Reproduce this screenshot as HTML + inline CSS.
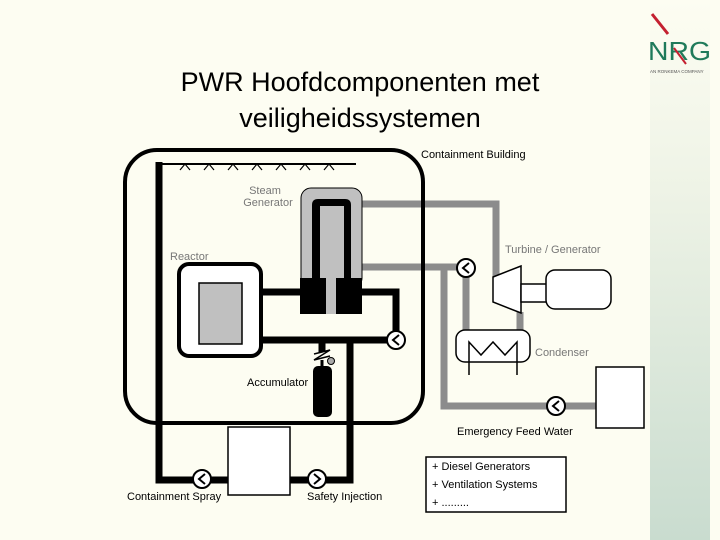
<!DOCTYPE html>
<html><head><style>
body{margin:0;width:720px;height:540px;background:#fdfdf2;overflow:hidden;position:relative;font-family:"Liberation Sans",sans-serif}
.strip{position:absolute;left:650px;top:0;width:60px;height:540px;background:linear-gradient(#fdfdf2 0%,#eef3e6 35%,#c9dccf 100%)}
.title{position:absolute;left:100px;width:520px;top:64px;text-align:center;font-size:27px;line-height:36px;color:#000}
svg{position:absolute;left:0;top:0}
</style></head><body>
<div class="strip"></div>
<div class="title">PWR Hoofdcomponenten met<br>veiligheidssystemen</div>
<svg width="720" height="540" font-family="Liberation Sans, sans-serif">
<!-- logo -->
<line x1="652" y1="14" x2="668" y2="34" stroke="#c42030" stroke-width="3"/>
<text x="648" y="60" font-size="26" fill="#1f7a5a" textLength="63" lengthAdjust="spacingAndGlyphs">NRG</text>
<line x1="674" y1="48" x2="686" y2="64" stroke="#c42030" stroke-width="2"/>
<text x="650" y="73" font-size="4.5" fill="#555">AN RONKEMA COMPANY</text>
<!-- gray pipes -->
<g stroke="#8c8c8c" stroke-width="7" fill="none">
<polyline points="362,204 496,204 496,278"/>
<polyline points="362,267 458,267"/>
<line x1="466" y1="276" x2="466" y2="331"/>
<line x1="520" y1="312" x2="520" y2="331"/>
<polyline points="444,267 444,406 548,406"/>
<line x1="564" y1="406" x2="596" y2="406"/>
</g>
<!-- containment -->
<rect x="125" y="150" width="298" height="273" rx="32" fill="none" stroke="#000" stroke-width="4"/>
<line x1="159" y1="164" x2="356" y2="164" stroke="#000" stroke-width="2"/>
<g stroke="#000" stroke-width="1.2" fill="none">
<polyline points="180,170 185,164 190,170"/><polyline points="204,170 209,164 214,170"/><polyline points="228,170 233,164 238,170"/><polyline points="252,170 257,164 262,170"/><polyline points="276,170 281,164 286,170"/><polyline points="300,170 305,164 310,170"/><polyline points="324,170 329,164 334,170"/>
</g>
<!-- black pipes -->
<g stroke="#000" stroke-width="7" fill="none">
<polyline points="159,162 159,480 195,480"/>
<line x1="210" y1="480" x2="228" y2="480"/>
<polyline points="290,480 309,480"/>
<polyline points="325,480 350,480 350,340"/>
<line x1="261" y1="292" x2="301" y2="292"/>
<polyline points="362,292 396,292 396,331"/>
<line x1="261" y1="340" x2="387" y2="340"/>
<line x1="322" y1="340" x2="322" y2="352"/>
</g>
<!-- steam generator -->
<rect x="301" y="188" width="61" height="100" rx="10" fill="#c0c0c0" stroke="#000" stroke-width="1"/>
<rect x="300" y="278" width="62" height="36" fill="#000"/>
<path d="M312,278 V205 Q312,199 318,199 H345 Q351,199 351,205 V278 H344 V206 H320 V278 Z" fill="#000"/>
<rect x="326" y="278" width="10" height="36" fill="#c0c0c0"/>
<!-- reactor -->
<rect x="179" y="264" width="82" height="92" rx="10" fill="#fff" stroke="#000" stroke-width="4"/>
<rect x="199" y="283" width="43" height="61" fill="#c0c0c0" stroke="#000" stroke-width="1.5"/>
<!-- accumulator -->
<polyline points="314,354 330,350 314,360 330,356" stroke="#000" stroke-width="1.5" fill="none"/>
<circle cx="331" cy="361" r="3.5" fill="#aaa" stroke="#000"/>
<line x1="322" y1="360" x2="322" y2="367" stroke="#000" stroke-width="3"/>
<rect x="313" y="366" width="19" height="51" rx="5" fill="#000"/>
<!-- box bottom -->
<rect x="228" y="427" width="62" height="68" fill="#fff" stroke="#000" stroke-width="1.5"/>
<!-- pumps -->
<g fill="#fff" stroke="#000" stroke-width="2">
<circle cx="202" cy="479" r="9"/><circle cx="317" cy="479" r="9"/><circle cx="396" cy="340" r="9"/>
<circle cx="466" cy="268" r="9"/><circle cx="556" cy="406" r="9"/>
</g>
<g fill="none" stroke="#000" stroke-width="2">
<polyline points="205,474 199,479 205,484"/><polyline points="314,474 320,479 314,484"/><polyline points="399,335 393,340 399,345"/>
<polyline points="469,263 463,268 469,273"/><polyline points="559,401 553,406 559,411"/>
</g>
<!-- turbine -->
<polygon points="493,277 521,266 521,313 493,302" fill="#fff" stroke="#000" stroke-width="1.5"/>
<rect x="521" y="284" width="26" height="18" fill="#fff" stroke="#000" stroke-width="1.5"/>
<rect x="546" y="270" width="65" height="39" rx="9" fill="#fff" stroke="#000" stroke-width="1.5"/>
<!-- condenser -->
<rect x="456" y="330" width="74" height="32" rx="9" fill="#fff" stroke="#000" stroke-width="1.5"/>
<polyline points="469,375 469,342 481,355 493,342 505,355 517,342 517,375" fill="none" stroke="#000" stroke-width="1.5"/>
<!-- emergency box -->
<rect x="596" y="367" width="48" height="61" fill="#fff" stroke="#000" stroke-width="1.5"/>
<!-- legend -->
<rect x="426" y="457" width="140" height="55" fill="#fff" stroke="#000" stroke-width="1.5"/>
<g font-size="11" fill="#000">
<text x="432" y="470">+ Diesel Generators</text>
<text x="432" y="488">+ Ventilation Systems</text>
<text x="432" y="506">+ .........</text>
</g>
<!-- labels -->
<g font-size="11">
<text x="421" y="158" fill="#000">Containment Building</text>
<text x="265" y="194" fill="#777" text-anchor="middle">Steam</text>
<text x="268" y="206" fill="#777" text-anchor="middle">Generator</text>
<text x="170" y="260" fill="#777">Reactor</text>
<text x="505" y="253" fill="#777">Turbine / Generator</text>
<text x="535" y="356" fill="#777">Condenser</text>
<text x="247" y="386" fill="#000">Accumulator</text>
<text x="457" y="435" fill="#000">Emergency Feed Water</text>
<text x="127" y="500" fill="#000">Containment Spray</text>
<text x="307" y="500" fill="#000">Safety Injection</text>
</g>
</svg>
</body></html>
